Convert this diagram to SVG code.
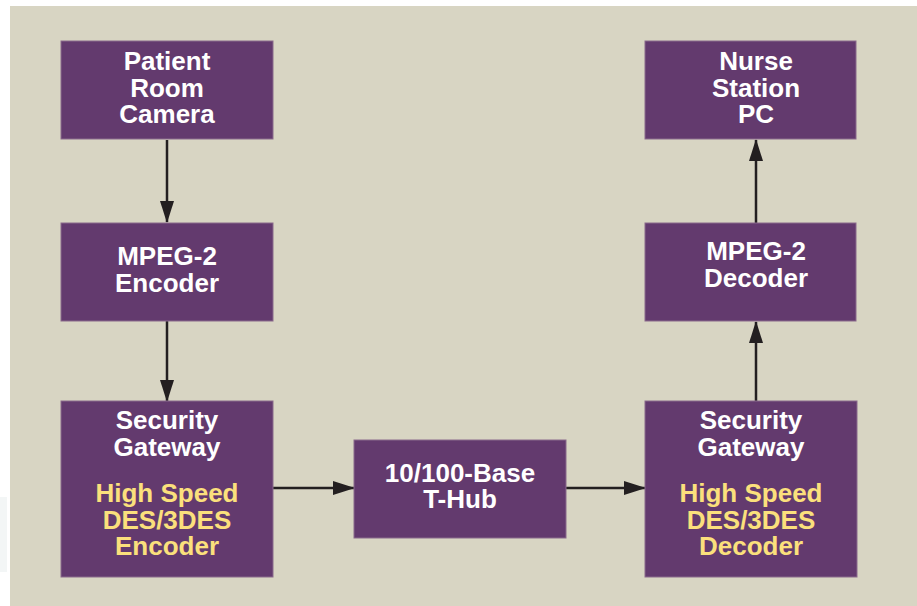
<svg xmlns="http://www.w3.org/2000/svg" width="917" height="606" viewBox="0 0 917 606">
<defs>
<style>
.box{fill:#633a6e;stroke:#8a6a8c;stroke-width:1}
.t{font-family:"Liberation Sans",Arial,sans-serif;font-weight:bold;font-size:26px;fill:#ffffff;text-anchor:middle}
.y{fill:#fbe07c}
.c{stroke:#231f20;stroke-width:2.5;fill:none;marker-end:url(#ah)}
</style>
<marker id="ah" markerUnits="userSpaceOnUse" markerWidth="22" markerHeight="14" refX="21" refY="7" orient="auto" viewBox="0 0 22 14">
<path d="M0,0 L22,7 L0,14 z" fill="#231f20"/>
</marker>
</defs>
<rect x="0" y="0" width="917" height="606" fill="#ffffff"/>
<rect x="0" y="497" width="7" height="75" fill="#f3f6f6"/>
<rect x="10" y="6" width="907" height="600" fill="#d8d5c3"/>

<g id="connectors">
<path class="c" d="M167,140 L167,222"/>
<path class="c" d="M167,321 L167,401"/>
<path class="c" d="M273,488 L354,488"/>
<path class="c" d="M566,488 L645,488"/>
<path class="c" d="M756,401 L756,322"/>
<path class="c" d="M756,223 L756,140"/>
</g>

<g id="patient-room-camera">
<rect class="box" x="61" y="41" width="212" height="98"/>
<text class="t" x="167" y="70">Patient</text>
<text class="t" x="167" y="97">Room</text>
<text class="t" x="167" y="123">Camera</text>
</g>

<g id="mpeg2-encoder">
<rect class="box" x="61" y="223" width="212" height="98"/>
<text class="t" x="167" y="265">MPEG-2</text>
<text class="t" x="167" y="292">Encoder</text>
</g>

<g id="security-gateway-encoder">
<rect class="box" x="61" y="401" width="212" height="176"/>
<text class="t" x="167" y="429">Security</text>
<text class="t" x="167" y="456">Gateway</text>
<text class="t y" x="167" y="502">High Speed</text>
<text class="t y" x="167" y="529">DES/3DES</text>
<text class="t y" x="167" y="555">Encoder</text>
</g>

<g id="hub">
<rect class="box" x="354" y="440" width="212" height="98"/>
<text class="t" x="460" y="482">10/100-Base</text>
<text class="t" x="460" y="508">T-Hub</text>
</g>

<g id="security-gateway-decoder">
<rect class="box" x="645" y="401" width="212" height="176"/>
<text class="t" x="751" y="429">Security</text>
<text class="t" x="751" y="456">Gateway</text>
<text class="t y" x="751" y="502">High Speed</text>
<text class="t y" x="751" y="529">DES/3DES</text>
<text class="t y" x="751" y="555">Decoder</text>
</g>

<g id="mpeg2-decoder">
<rect class="box" x="645" y="223" width="211" height="98"/>
<text class="t" x="756" y="260">MPEG-2</text>
<text class="t" x="756" y="287">Decoder</text>
</g>

<g id="nurse-station-pc">
<rect class="box" x="645" y="41" width="211" height="98"/>
<text class="t" x="756" y="70">Nurse</text>
<text class="t" x="756" y="97">Station</text>
<text class="t" x="756" y="123">PC</text>
</g>
</svg>
